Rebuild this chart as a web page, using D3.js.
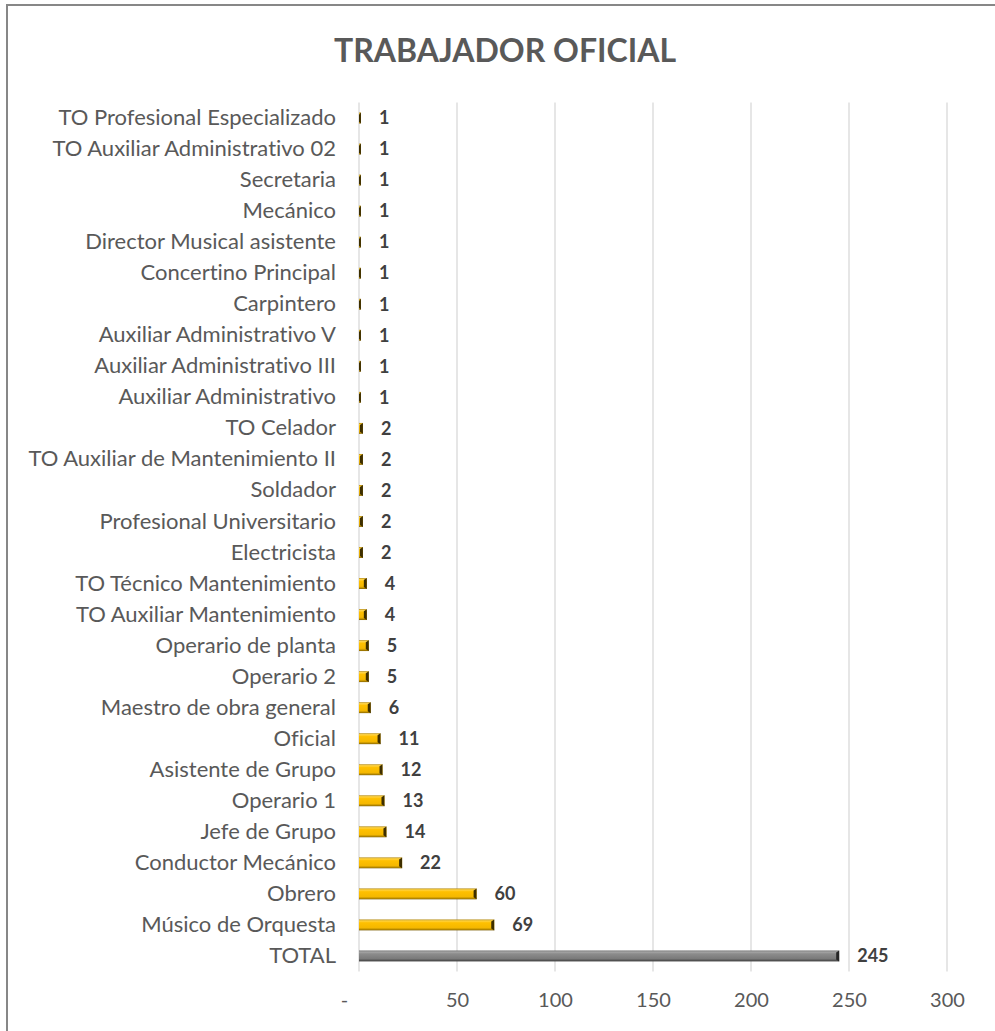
<!DOCTYPE html>
<html><head><meta charset="utf-8">
<script src="https://cdn.jsdelivr.net/npm/d3@7"></script>
<style>body{margin:0;background:#fff}svg{display:block}text{font-variant-ligatures:none;font-feature-settings:"liga" 0,"clig" 0}</style>
</head><body>
<svg id="c" width="995" height="1031"></svg>
<script>
const title = "TRABAJADOR OFICIAL";
const categories = ["TO Profesional Especializado","TO Auxiliar Administrativo 02","Secretaria","Mecánico","Director Musical asistente","Concertino Principal","Carpintero","Auxiliar Administrativo V","Auxiliar Administrativo III","Auxiliar Administrativo","TO Celador","TO Auxiliar de Mantenimiento II","Soldador","Profesional Universitario","Electricista","TO Técnico Mantenimiento","TO Auxiliar Mantenimiento","Operario de planta","Operario 2","Maestro de obra general","Oficial","Asistente de Grupo","Operario 1","Jefe de Grupo","Conductor Mecánico","Obrero","Músico de Orquesta","TOTAL"];
const values = [1,1,1,1,1,1,1,1,1,1,2,2,2,2,2,4,4,5,5,6,11,12,13,14,22,60,69,245];
const xTicks = [0,50,100,150,200,250,300];

const svg = d3.select("#c");
const plot = {left: 359, right: 947, top: 102.5, bottom: 971.5};

// border
svg.append("rect").attr("x",7).attr("y",5).attr("width",1000).attr("height",1040)
  .attr("fill","none").attr("stroke","#878787").attr("stroke-width",2);

const x = d3.scaleLinear().domain([0,300]).range([plot.left, plot.right]);
const y = d3.scaleBand().domain(categories).range([plot.top, plot.bottom]).paddingInner(0.65).paddingOuter(0.325);

const defs = svg.append("defs");
function grad(id, stops){
  const g = defs.append("linearGradient").attr("id",id).attr("x1",0).attr("y1",0).attr("x2",0).attr("y2",1);
  stops.forEach(s=>g.append("stop").attr("offset",s[0]).attr("stop-color",s[1]));
}
grad("gold", [[0,"#b08300"],[0.12,"#ffd447"],[0.3,"#ffc000"],[0.75,"#f5b800"],[0.9,"#c09000"],[1,"#7a5c00"]]);
grad("gray", [[0,"#5a5a5a"],[0.12,"#a8a8a8"],[0.3,"#8c8c8c"],[0.75,"#7a7a7a"],[0.9,"#555"],[1,"#3c3c3c"]]);

// gridlines
svg.append("g").selectAll("line").data(xTicks).join("line")
  .attr("x1",d=>x(d)).attr("x2",d=>x(d)).attr("y1",plot.top).attr("y2",plot.bottom)
  .attr("stroke","#d9d9d9").attr("stroke-width",1.3);

// axis tick labels
const xAxis = d3.axisBottom(x).tickValues(xTicks).tickSize(0).tickPadding(0)
  .tickFormat(d=> d===0 ? "-" : d3.format("d")(d));
const ax = svg.append("g").attr("transform",`translate(0,${plot.bottom+35})`).call(xAxis);
ax.select(".domain").remove();
ax.selectAll("text").attr("font-family","Lato, 'Open Sans', sans-serif").attr("font-size",20)
  .attr("fill","#595959").attr("dy","0");
ax.selectAll(".tick").filter(d=>d===0).select("text").attr("dx",-15);

// category labels
const yAxis = d3.axisLeft(y).tickSize(0).tickPadding(0);
const ay = svg.append("g").attr("transform",`translate(${plot.left-23},0)`).call(yAxis);
ay.select(".domain").remove();
ay.selectAll("text").attr("font-family","Lato, 'Open Sans', sans-serif").attr("font-size",22)
  .attr("fill","#595959");

// bars
const data = categories.map((c,i)=>({c, v: values[i]}));
const bars = svg.append("g").selectAll("g").data(data).join("g");
bars.append("rect")
  .attr("x",x(0)).attr("y",d=>y(d.c)).attr("width",d=>x(d.v)-x(0)).attr("height",y.bandwidth())
  .attr("fill",d=>d.c==="TOTAL"?"url(#gray)":"url(#gold)");
// dark end cap (bevel)
bars.append("path")
  .attr("d",d=>{
    const xe = x(d.v), yt = y(d.c), h = y.bandwidth(), w = Math.min(3, x(d.v)-x(0));
    return `M${xe-w},${yt+2}L${xe},${yt}L${xe},${yt+h}L${xe-w},${yt+h-2}Z`;
  })
  .attr("fill",d=>d.c==="TOTAL"?"#262626":"#3d2e00");

// value labels
bars.append("text")
  .attr("x",d=>x(d.v)+18).attr("y",d=>y(d.c)+y.bandwidth()/2)
  .attr("dy","0.35em")
  .attr("font-family","Lato, 'Open Sans', sans-serif").attr("font-weight","bold").attr("font-size",18)
  .attr("fill","#404040")
  .text(d=>d.v);

// title
svg.append("text").attr("x",505).attr("y",51).attr("dy","0.35em").attr("text-anchor","middle")
  .attr("font-family","Lato, 'Open Sans', sans-serif").attr("font-weight","bold").attr("font-size",32)
  .attr("fill","#595959").text(title);
</script>
</body></html>
